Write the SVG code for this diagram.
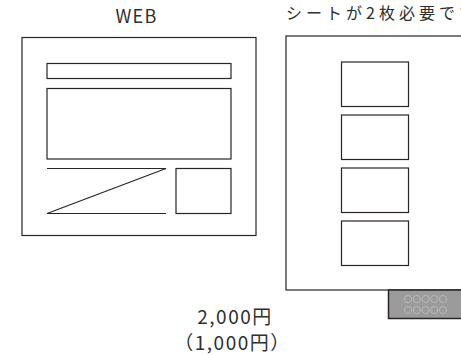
<svg xmlns="http://www.w3.org/2000/svg" width="461" height="355" viewBox="0 0 461 355">
<style>
.ln{fill:#fff;stroke:#2b2424;stroke-width:1.2}
.nf{fill:none;stroke:#2b2424;stroke-width:1.2}
.t{font-family:"Noto Sans CJK JP","Noto Sans",sans-serif;fill:#2f2f2f;font-weight:400}
.dot{fill:none;stroke:#b8b8b8;stroke-width:1}
</style>
<rect width="461" height="355" fill="#fff"/>
<g id="web">
<text class="t" x="136.5" y="22.7" font-size="18" letter-spacing="1.2" text-anchor="middle">WEB</text>
<rect class="ln" x="22" y="37.5" width="234" height="198"/>
<rect class="ln" x="47" y="63.5" width="184" height="15"/>
<rect class="ln" x="47" y="88.5" width="184" height="70.5"/>
<path class="nf" d="M47 168.5H166L47 213.5H166"/>
<rect class="ln" x="176" y="168.5" width="55" height="45"/>
</g>
<g id="sheet">
<text class="t" x="286" y="19" font-size="16" letter-spacing="4">シートが2枚必要です</text>
<rect class="ln" x="286" y="36" width="190" height="254"/>
<rect class="ln" x="341.5" y="62" width="67" height="44.5"/>
<rect class="ln" x="341.5" y="115" width="67" height="44.5"/>
<rect class="ln" x="341.5" y="168" width="67" height="44.5"/>
<rect class="ln" x="341.5" y="221" width="67" height="44.5"/>
<rect x="388.5" y="290" width="90" height="28.5" fill="#9b9b9b" stroke="#2b2424" stroke-width="1.5"/>
<g class="dot">
<circle cx="408" cy="299" r="3.6"/><circle cx="416.75" cy="299" r="3.6"/><circle cx="425.5" cy="299" r="3.6"/><circle cx="434.25" cy="299" r="3.6"/><circle cx="443" cy="299" r="3.6"/>
<circle cx="408" cy="310" r="3.6"/><circle cx="416.75" cy="310" r="3.6"/><circle cx="425.5" cy="310" r="3.6"/><circle cx="434.25" cy="310" r="3.6"/><circle cx="443" cy="310" r="3.6"/>
</g>
</g>
<g id="price">
<text class="t" x="235" y="324" font-size="19" letter-spacing="1.5" text-anchor="middle">2,000円</text>
<text class="t" x="232.5" y="350" font-size="19" letter-spacing="1.5" text-anchor="middle">（1,000円）</text>
</g>
<g id="connectors"/>
</svg>
